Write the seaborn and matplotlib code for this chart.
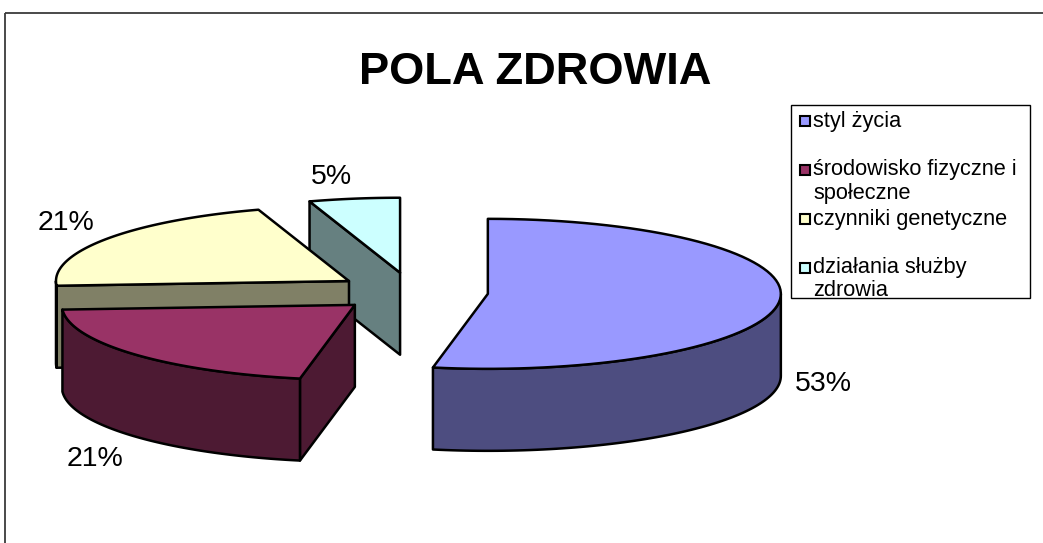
import numpy as np
import matplotlib
matplotlib.use("Agg")
import matplotlib.pyplot as plt
from matplotlib.patches import Polygon, Rectangle
import seaborn as sns

# ---------------- data ----------------
title = "POLA ZDROWIA"
categories = ["styl życia", "środowisko fizyczne i\nspołeczne",
              "czynniki genetyczne", "działania służby\nzdrowia"]
values = [53, 21, 21, 5]
value_labels = ["53%", "21%", "21%", "5%"]
top_hex = ["#9999FF", "#993366", "#FFFFCC", "#CCFFFF"]

# ---------------- style ----------------
sns.set_theme(style="white")
plt.rcParams['font.family'] = ['Liberation Sans', 'DejaVu Sans']

top_colors = sns.color_palette(top_hex)
side_colors = [tuple(c * 0.5 for c in col) for col in top_colors]

W, H = 1043, 543
fig = plt.figure(figsize=(W / 100, H / 100), dpi=100)
ax = fig.add_axes([0, 0, 1, 1])
ax.set_xlim(0, W)
ax.set_ylim(H, 0)
ax.axis('off')

# chart-area frame (extends past right and bottom edges)
ax.add_patch(Rectangle((5, 13), W + 50, H + 50, fill=False,
                       edgecolor="#3a3a3a", lw=1.3, zorder=1))

# ---------------- 3D exploded pie geometry ----------------
cx, cy = 412, 292
rx, ry = 293, 75
depth = 82
explode = 0.26
lw = 1.8

vals = np.array(values, dtype=float)
fr = vals / vals.sum()
ends = np.cumsum(fr) * 360.0
starts = ends - fr * 360.0
mids = (starts + ends) / 2.0


def rim(ax0, ay0, t, dz=0.0):
    r = np.radians(t)
    return (ax0 + rx * np.sin(r), ay0 - ry * np.cos(r) + dz)


def arc(ax0, ay0, t0, t1, dz=0.0, n=80):
    ts = np.linspace(t0, t1, n)
    return [rim(ax0, ay0, t, dz) for t in ts]


apexes = []
for m in mids:
    r = np.radians(m)
    apexes.append((cx + explode * rx * np.sin(r), cy - explode * ry * np.cos(r)))

order = sorted(range(len(vals)), key=lambda i: apexes[i][1])
z = 2
for i in order:
    a0, a1 = starts[i], ends[i]
    px, py = apexes[i]
    sc, tc = side_colors[i], top_colors[i]
    # radial walls
    for edge, normal in ((a0, a0 - 90), (a1, a1 + 90)):
        if np.cos(np.radians(normal)) < -1e-6:
            p = rim(px, py, edge)
            poly = [(px, py), p, (p[0], p[1] + depth), (px, py + depth)]
            ax.add_patch(Polygon(poly, closed=True, facecolor=sc, edgecolor="black",
                                 lw=lw, joinstyle="round", zorder=z))
            z += 1
    # outer rim (front half only)
    t0, t1 = max(a0, 90), min(a1, 270)
    if t1 > t0:
        poly = arc(px, py, t0, t1) + arc(px, py, t1, t0, depth)
        ax.add_patch(Polygon(poly, closed=True, facecolor=sc, edgecolor="black",
                             lw=lw, joinstyle="round", zorder=z))
        z += 1
    # top face
    poly = [(px, py)] + arc(px, py, a0, a1)
    ax.add_patch(Polygon(poly, closed=True, facecolor=tc, edgecolor="black",
                         lw=lw, joinstyle="round", zorder=z))
    z += 1

# ---------------- value labels ----------------
pad = 15
for i, lab in enumerate(value_labels):
    m = np.radians(mids[i])
    s, c = np.sin(m), np.cos(m)
    px, py = apexes[i]
    x, y = rim(px, py, mids[i], depth if c < 0 else 0)
    x += pad * s
    y -= pad * c
    ha = "left" if s > 0.1 else ("right" if s < -0.1 else "center")
    va = "baseline" if c > 0.3 else ("top" if c < -0.3 else "center")
    ax.text(x, y, lab, fontsize=20.5, ha=ha, va=va, color="black", zorder=50)

# ---------------- title ----------------
ax.text(535, 84, title, fontsize=32.6, fontweight="bold", ha="center",
        va="baseline", color="black", zorder=50)

# ---------------- legend ----------------
lx0, ly0, lx1, ly1 = 791, 105, 1030, 298
ax.add_patch(Rectangle((lx0, ly0), lx1 - lx0, ly1 - ly0, facecolor="white",
                       edgecolor="black", lw=1.0, zorder=40))
first_y = 121
slot = 49
line_h = 23
msize = 10
for i, lab in enumerate(categories):
    yy = first_y + slot * i
    ax.add_patch(Rectangle((800, yy - msize / 2), msize, msize, facecolor=top_colors[i],
                           edgecolor="black", lw=1.5, zorder=41))
    for k, line in enumerate(lab.split("\n")):
        ax.text(813, yy + k * line_h, line, fontsize=15.7, ha="left",
                va="center", color="black", zorder=41)

fig.savefig("out.png", dpi=100, facecolor="white")
